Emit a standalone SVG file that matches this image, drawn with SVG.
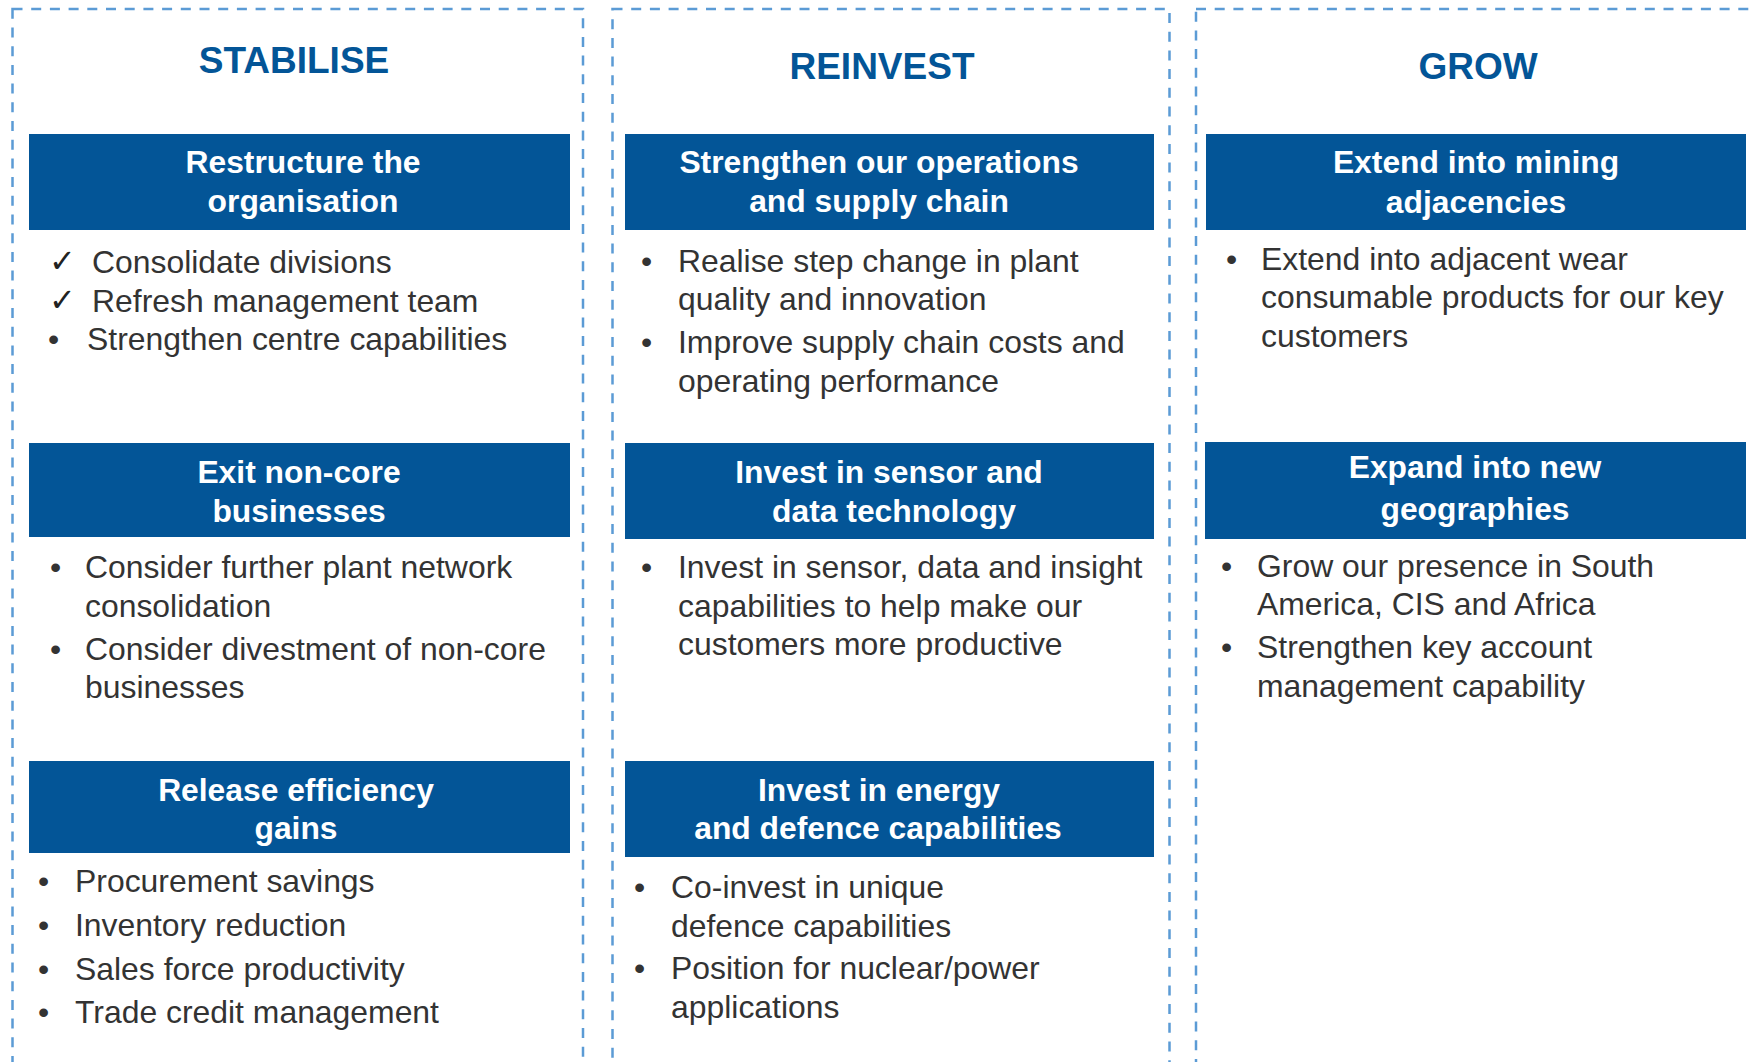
<svg xmlns="http://www.w3.org/2000/svg" width="1756" height="1062" viewBox="0 0 1756 1062">
  <style>
    .panel { fill: none; stroke: #5b9bd5; stroke-width: 2.5; stroke-dasharray: 10 8.7; }
    .bar { fill: #035597; }
    .phase { font-family: "Liberation Sans", Arial, sans-serif; font-weight: bold; font-size: 37px; fill: #035597; text-anchor: middle; }
    .head { font-family: "Liberation Sans", Arial, sans-serif; font-weight: bold; font-size: 31.8px; fill: #ffffff; text-anchor: middle; }
    .body { font-family: "Liberation Sans", Arial, sans-serif; font-size: 31.9px; fill: #333333; }
    .mark { font-family: "DejaVu Sans", sans-serif; font-size: 32px; fill: #222222; }
  </style>
  <rect x="0" y="0" width="1756" height="1062" fill="#ffffff"/>

  <!-- column frames -->
  <g id="frames">
    <rect class="panel" x="12.5" y="9" width="570.5" height="1080"/>
    <rect class="panel" x="612.5" y="9" width="557" height="1080"/>
    <rect class="panel" x="1196" y="9" width="600" height="1080"/>
  </g>

  <!-- phase titles -->
  <g id="title-stabilise"><text class="phase" x="294" y="73">STABILISE</text></g>
  <g id="title-reinvest"><text class="phase" x="882" y="79">REINVEST</text></g>
  <g id="title-grow"><text class="phase" x="1478" y="79">GROW</text></g>

  <!-- STABILISE column -->
  <g id="restructure">
    <rect class="bar" x="29" y="134" width="541" height="96"/>
    <text class="head" x="303" y="173">Restructure the</text>
    <text class="head" x="303" y="212">organisation</text>
    <text class="mark" x="49" y="272">✓</text>
    <text class="body" x="92" y="273">Consolidate divisions</text>
    <text class="mark" x="49" y="311">✓</text>
    <text class="body" x="92" y="312">Refresh management team</text>
    <text class="body" x="48" y="350">•</text>
    <text class="body" x="87" y="350">Strengthen centre capabilities</text>
  </g>

  <g id="exit-non-core">
    <rect class="bar" x="29" y="443" width="541" height="94"/>
    <text class="head" x="299" y="483">Exit non-core</text>
    <text class="head" x="299" y="522">businesses</text>
    <text class="body" x="50" y="578">•</text>
    <text class="body" x="85" y="578">Consider further plant network</text>
    <text class="body" x="85" y="617">consolidation</text>
    <text class="body" x="50" y="660">•</text>
    <text class="body" x="85" y="660">Consider divestment of non-core</text>
    <text class="body" x="85" y="698">businesses</text>
  </g>

  <g id="release-efficiency">
    <rect class="bar" x="29" y="761" width="541" height="92"/>
    <text class="head" x="296" y="801">Release efficiency</text>
    <text class="head" x="296" y="839">gains</text>
    <text class="body" x="38" y="892">•</text>
    <text class="body" x="75" y="892">Procurement savings</text>
    <text class="body" x="38" y="936">•</text>
    <text class="body" x="75" y="936">Inventory reduction</text>
    <text class="body" x="38" y="980">•</text>
    <text class="body" x="75" y="980">Sales force productivity</text>
    <text class="body" x="38" y="1023">•</text>
    <text class="body" x="75" y="1023">Trade credit management</text>
  </g>

  <!-- REINVEST column -->
  <g id="operations">
    <rect class="bar" x="625" y="134" width="529" height="96"/>
    <text class="head" x="879" y="173">Strengthen our operations</text>
    <text class="head" x="879" y="212">and supply chain</text>
    <text class="body" x="641" y="272">•</text>
    <text class="body" x="678" y="272">Realise step change in plant</text>
    <text class="body" x="678" y="310">quality and innovation</text>
    <text class="body" x="641" y="353">•</text>
    <text class="body" x="678" y="353">Improve supply chain costs and</text>
    <text class="body" x="678" y="392">operating performance</text>
  </g>

  <g id="sensor-data">
    <rect class="bar" x="625" y="443" width="529" height="96"/>
    <text class="head" x="889" y="483">Invest in sensor and</text>
    <text class="head" x="894" y="522">data technology</text>
    <text class="body" x="641" y="578">•</text>
    <text class="body" x="678" y="578">Invest in sensor, data and insight</text>
    <text class="body" x="678" y="617">capabilities to help make our</text>
    <text class="body" x="678" y="655">customers more productive</text>
  </g>

  <g id="energy-defence">
    <rect class="bar" x="625" y="761" width="529" height="96"/>
    <text class="head" x="879" y="801">Invest in energy</text>
    <text class="head" x="878" y="839">and defence capabilities</text>
    <text class="body" x="634" y="898">•</text>
    <text class="body" x="671" y="898">Co-invest in unique</text>
    <text class="body" x="671" y="937">defence capabilities</text>
    <text class="body" x="634" y="979">•</text>
    <text class="body" x="671" y="979">Position for nuclear/power</text>
    <text class="body" x="671" y="1018">applications</text>
  </g>

  <!-- GROW column -->
  <g id="mining-adjacencies">
    <rect class="bar" x="1206" y="134" width="540" height="96"/>
    <text class="head" x="1476" y="173">Extend into mining</text>
    <text class="head" x="1476" y="213">adjacencies</text>
    <text class="body" x="1226" y="270">•</text>
    <text class="body" x="1261" y="270">Extend into adjacent wear</text>
    <text class="body" x="1261" y="308">consumable products for our key</text>
    <text class="body" x="1261" y="347">customers</text>
  </g>

  <g id="new-geographies">
    <rect class="bar" x="1205" y="442" width="541" height="97"/>
    <text class="head" x="1475" y="478">Expand into new</text>
    <text class="head" x="1475" y="520">geographies</text>
    <text class="body" x="1221" y="577">•</text>
    <text class="body" x="1257" y="577">Grow our presence in South</text>
    <text class="body" x="1257" y="615">America, CIS and Africa</text>
    <text class="body" x="1221" y="658">•</text>
    <text class="body" x="1257" y="658">Strengthen key account</text>
    <text class="body" x="1257" y="697">management capability</text>
  </g>

  <g id="connectors"/>
</svg>
